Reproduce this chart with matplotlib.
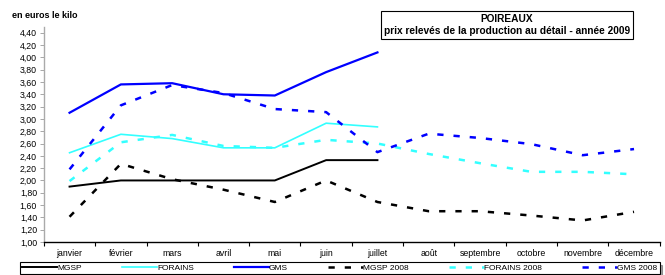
import numpy as np
import matplotlib
matplotlib.use("Agg")
import matplotlib.pyplot as plt
from matplotlib.ticker import FuncFormatter, FixedLocator

plt.rcParams['font.family'] = ['Liberation Sans', 'DejaVu Sans']

mois = ['janvier', 'février', 'mars', 'avril', 'mai', 'juin', 'juillet',
        'août', 'septembre', 'octobre', 'novembre', 'décembre']

mgsp_2009 = [1.90, 2.00, 2.00, 2.00, 2.00, 2.33, 2.33]
forains_2009 = [2.45, 2.75, 2.68, 2.53, 2.53, 2.93, 2.87]
gms_2009 = [3.10, 3.56, 3.58, 3.40, 3.38, 3.76, 4.08]

mgsp_2008 = [1.41, 2.27, 2.02, 1.85, 1.65, 2.00, 1.65, 1.50, 1.50, 1.43, 1.35, 1.49]
forains_2008 = [1.99, 2.62, 2.74, 2.56, 2.53, 2.66, 2.60, 2.43, 2.28, 2.14, 2.14, 2.10]
gms_2008 = [2.18, 3.22, 3.55, 3.42, 3.16, 3.11, 2.46, 2.76, 2.69, 2.59, 2.41, 2.51]

noir = '#000000'
cyan = '#33FFFF'
bleu = '#0000FF'

fig = plt.figure(figsize=(6.65, 2.75), dpi=100)
ax = fig.add_axes([0.066, 0.12, 0.926, 0.761])

x = np.arange(len(mois))
x9 = np.arange(len(mgsp_2009))

ax.plot(x9, mgsp_2009, color=noir, lw=1.4, label='MGSP')
ax.plot(x9, forains_2009, color=cyan, lw=1.2, label='FORAINS')
ax.plot(x9, gms_2009, color=bleu, lw=1.6, label='GMS')
ax.plot(x, mgsp_2008, color=noir, lw=1.8, ls=(0, (2.5, 4)), label='MGSP 2008')
ax.plot(x, forains_2008, color=cyan, lw=1.8, ls=(0, (2.5, 4)), label='FORAINS 2008')
ax.plot(x, gms_2008, color=bleu, lw=1.8, ls=(0, (2.5, 4)), label='GMS 2008')

ax.set_xlim(-0.5, 11.5)
ax.set_ylim(1.0, 4.4)
ax.set_yticks(np.arange(1.0, 4.41, 0.2))
ax.yaxis.set_major_formatter(FuncFormatter(lambda v, p: ('%.2f' % v).replace('.', ',')))
ax.set_xticks(x)
ax.set_xticklabels(mois)
ax.xaxis.set_minor_locator(FixedLocator(np.arange(-0.5, 12, 1)))
ax.tick_params(axis='x', which='major', length=0, pad=5, labelsize=6.3)
ax.tick_params(axis='x', which='minor', length=3, width=0.8, direction='out')
ax.tick_params(axis='y', length=3, width=0.6, color='#999999', labelsize=6.3, pad=2)

ax.spines['top'].set_visible(False)
ax.spines['right'].set_visible(False)
ax.spines['left'].set_color('#AAAAAA')
ax.spines['left'].set_linewidth(1.0)
ax.spines['bottom'].set_linewidth(1.0)
ax.spines['left'].set_bounds(1.0, 4.5)

fig.text(0.018, 0.945, 'en euros le kilo', fontsize=6.5, fontweight='bold', va='center')

fig.text(0.762, 0.91, 'POIREAUX\nprix relevés de la production au détail - année 2009',
         fontsize=7.3, fontweight='bold', ha='center', va='center', linespacing=1.25,
         bbox=dict(boxstyle='square,pad=0.3', facecolor='white', edgecolor='black', lw=0.8))

leg = fig.legend(loc='upper left', bbox_to_anchor=(0.03, 0.047, 0.962, 0),
                 ncol=6, mode='expand', fontsize=6.0, frameon=True, fancybox=False,
                 shadow=True, handlelength=4.2, handletextpad=0.0, borderaxespad=0,
                 borderpad=0.25, columnspacing=1.0)
leg.get_frame().set_edgecolor('black')
leg.get_frame().set_linewidth(0.8)

fig.savefig('out.png', dpi=100)
